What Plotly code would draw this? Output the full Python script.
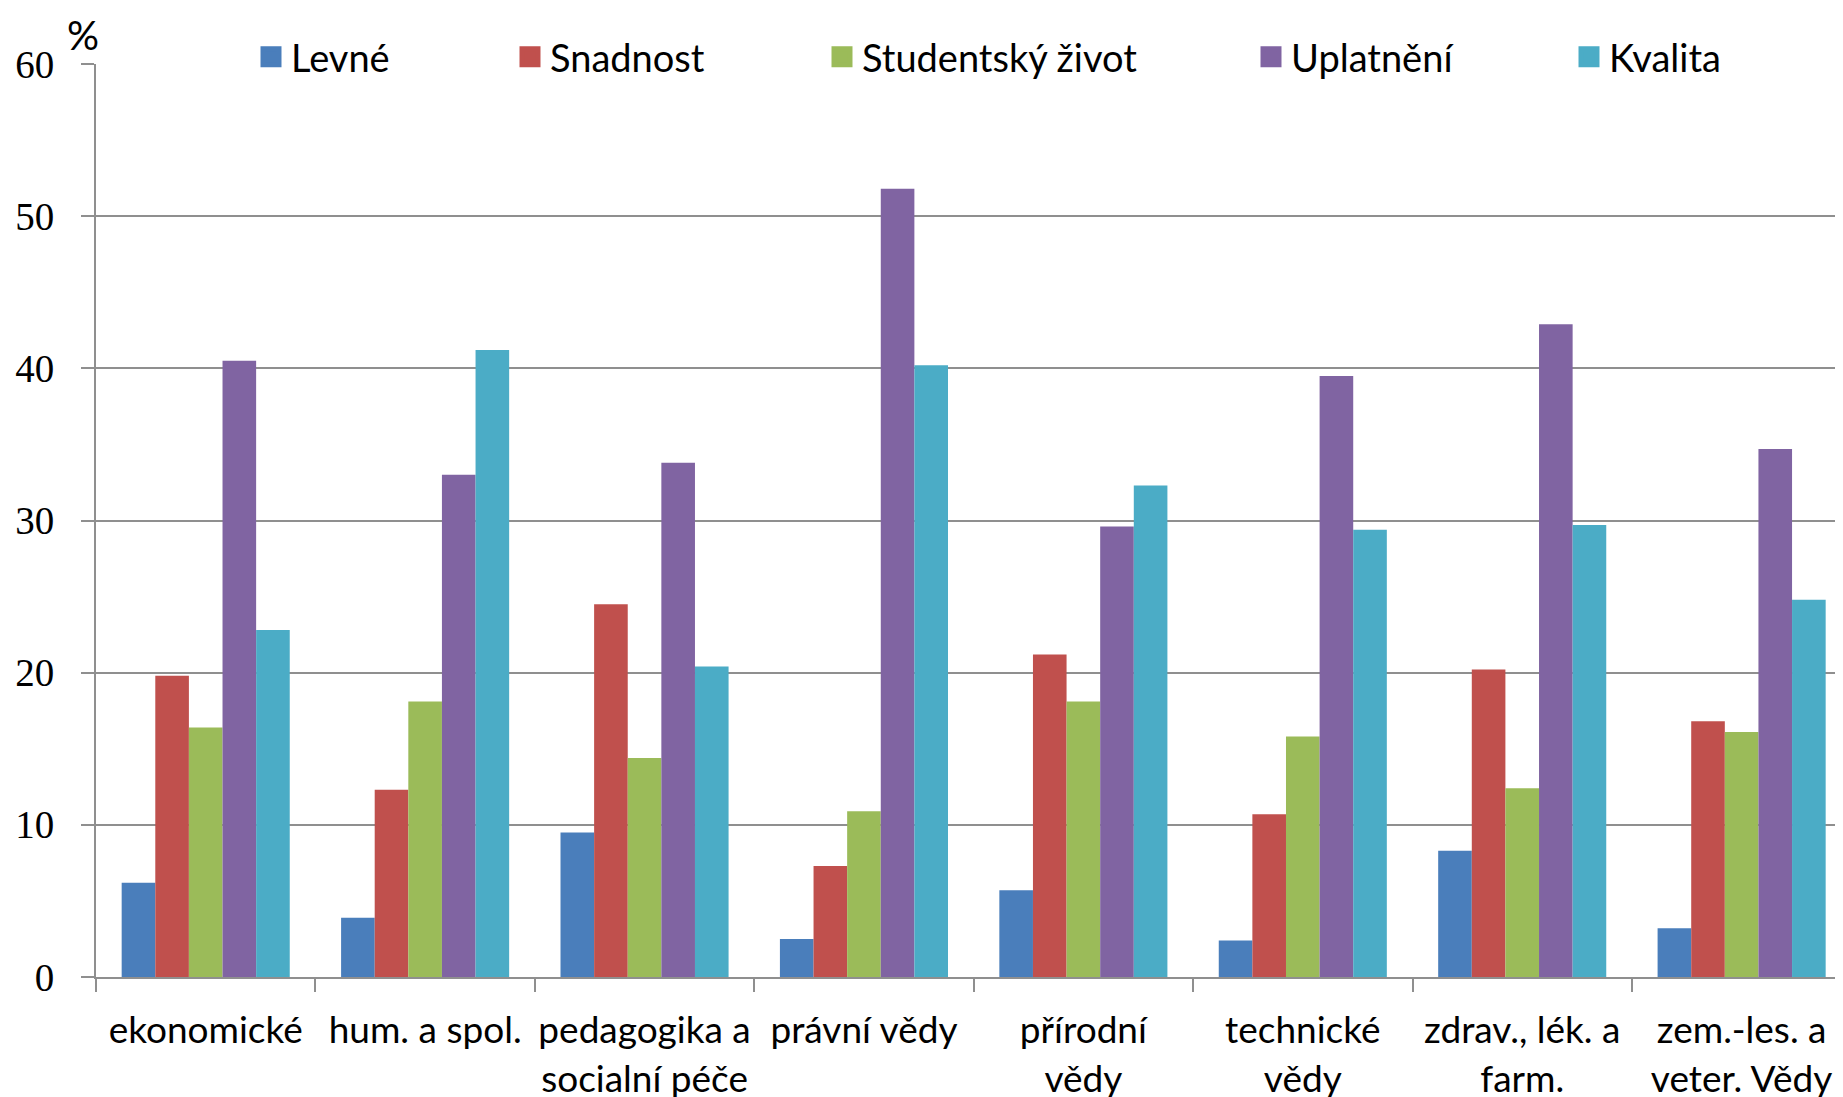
import plotly.graph_objects as go

categories = ["ekonomické", "hum. a spol.", "pedagogika a<br>socialní péče", "právní vědy",
              "přírodní<br>vědy", "technické<br>vědy", "zdrav., lék. a<br>farm.", "zem.-les. a<br>veter. Vědy"]

levne = [6.2, 3.9, 9.5, 2.5, 5.7, 2.4, 8.3, 3.2]
snadnost = [19.8, 12.3, 24.5, 7.3, 21.2, 10.7, 20.2, 16.8]
studentsky = [16.4, 18.1, 14.4, 10.9, 18.1, 15.8, 12.4, 16.1]
uplatneni = [40.5, 33.0, 33.8, 51.8, 29.6, 39.5, 42.9, 34.7]
kvalita = [22.8, 41.2, 20.4, 40.2, 32.3, 29.4, 29.7, 24.8]

series = [
    ("Levné", levne, "#4A7EBB", 291),
    ("Snadnost", snadnost, "#C0504D", 550),
    ("Studentský život", studentsky, "#9BBB59", 862),
    ("Uplatnění", uplatneni, "#8064A2", 1291),
    ("Kvalita", kvalita, "#4BACC6", 1609),
]

W, H = 1843, 1097
OFF = 8  # page body margin
PL, PT, PB = 96, 63.5, 977  # plot edges in page pixels
PW = 1843 - PL
PH = PB - PT

fig = go.Figure()
layout_legends = {}
for i, (name, vals, col, tx) in enumerate(series):
    lg = "legend" if i == 0 else f"legend{i+1}"
    fig.add_trace(go.Bar(name=name, x=categories, y=vals, marker=dict(color=col, line=dict(width=0)),
                         showlegend=False))
    # legend-only entry with a larger square key
    fig.add_trace(go.Scatter(name=name, x=[None], y=[None], mode="markers",
                             marker=dict(symbol="square", size=16, color=col, line=dict(color=col, width=5)),
                             legend=lg, showlegend=True, hoverinfo="skip"))
    layout_legends[lg] = dict(
        x=(tx - 40 - OFF) / W, xref="container", xanchor="left",
        y=1 - (57 - OFF) / H, yref="container", yanchor="middle",
        bgcolor="rgba(0,0,0,0)", borderwidth=0,
        font=dict(family="Lato", size=38, color="black"),
        itemwidth=30, itemsizing="trace", tracegroupgap=0,
    )

fig.update_layout(
    width=W, height=H,
    margin=dict(l=PL - OFF, r=OFF, t=PT - OFF, b=H - (PB - OFF), autoexpand=False),
    plot_bgcolor="white", paper_bgcolor="white",
    barmode="group", bargap=0.234, bargroupgap=0,
    showlegend=True,
    **layout_legends,
)

fig.update_xaxes(
    type="category", range=[-0.5, 7.462],
    showline=True, linecolor="#8f8f8f", linewidth=2,
    ticks="outside", tickson="boundaries", ticklen=13, tickwidth=2, tickcolor="#8f8f8f",
    tickfont=dict(family="Lato", size=37, color="black"),
    showgrid=False, ticklabelstandoff=20, tickangle=0, automargin=False,
)
fig.update_yaxes(
    range=[0, 60], tickvals=[0, 10, 20, 30, 40, 50, 60],
    showline=True, linecolor="#8f8f8f", linewidth=2,
    ticks="outside", ticklen=13, tickwidth=2, tickcolor="#8f8f8f",
    showgrid=True, gridcolor="#8f8f8f", gridwidth=2, zeroline=False,
    tickfont=dict(family="Liberation Serif", size=39, color="black"),
    ticklabelstandoff=19, automargin=False,
)

# white legend background covering the top gridline
fig.add_shape(type="rect", xref="paper", yref="y",
              x0=(133 - PL) / PW, x1=(1835 - PL) / PW, y0=59.7, y1=60.3,
              fillcolor="white", line=dict(width=0), layer="above")

fig.add_annotation(text="%", xref="paper", yref="paper", x=(83 - PL) / PW, y=1 + (PT - 34) / PH,
                   showarrow=False, font=dict(family="Lato", size=40, color="black"),
                   xanchor="center", yanchor="middle")

fig.write_html("out.html")
